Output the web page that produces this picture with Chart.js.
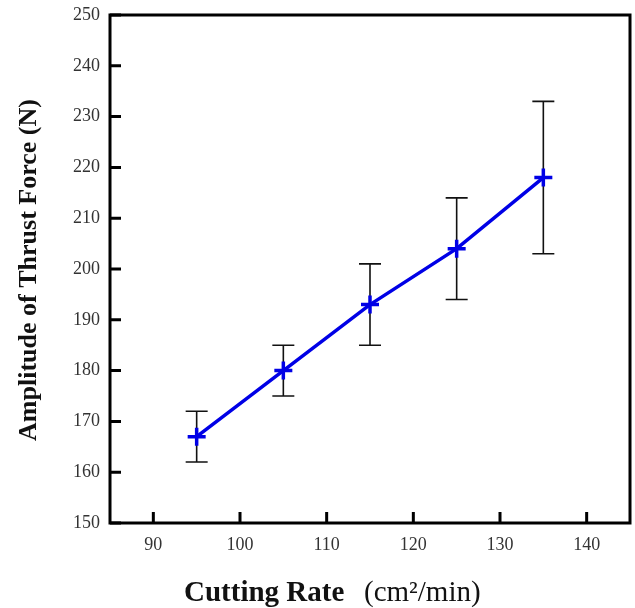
<!DOCTYPE html>
<html>
<head>
    <title>Amplitude of Thrust Force vs Cutting Rate</title>
    <script src="https://cdn.jsdelivr.net/npm/chart.js"></script>
    <style>
        body { margin: 0; background: #fff; }
    </style>
</head>
<body>
    <canvas id="thrustChart" width="635" height="608"></canvas>
    <script>
        // values
        const cuttingRate = [95, 105, 115, 125, 135];
        const thrustForce = [167, 180, 193, 204, 218];
        const errLow = [162, 175, 185, 194, 203];
        const errHigh = [172, 185, 201, 214, 233];
        const xTickVals = [90, 100, 110, 120, 130, 140];
        const yTickVals = [150, 160, 170, 180, 190, 200, 210, 220, 230, 240, 250];

        const serif = '"Liberation Serif", "Times New Roman", serif';

        // error bars, inward ticks, frame and axis titles
        const decorations = {
            id: 'decorations',
            beforeDatasetsDraw(chart) {
                const ctx = chart.ctx;
                const x = chart.scales.x, y = chart.scales.y;
                ctx.save();
                ctx.strokeStyle = '#111';
                ctx.lineWidth = 1.6;
                cuttingRate.forEach((v, i) => {
                    const px = x.getPixelForValue(v);
                    const top = y.getPixelForValue(errHigh[i]);
                    const bot = y.getPixelForValue(errLow[i]);
                    ctx.beginPath();
                    ctx.moveTo(px, top); ctx.lineTo(px, bot);
                    ctx.moveTo(px - 11, top); ctx.lineTo(px + 11, top);
                    ctx.moveTo(px - 11, bot); ctx.lineTo(px + 11, bot);
                    ctx.stroke();
                });
                ctx.restore();
            },
            afterDraw(chart) {
                const ctx = chart.ctx;
                const a = chart.chartArea;
                const x = chart.scales.x, y = chart.scales.y;
                ctx.save();
                ctx.strokeStyle = '#000';
                ctx.lineWidth = 3;
                ctx.strokeRect(a.left, a.top, a.right - a.left, a.bottom - a.top);
                ctx.beginPath();
                xTickVals.forEach(v => {
                    const px = x.getPixelForValue(v);
                    ctx.moveTo(px, a.bottom); ctx.lineTo(px, a.bottom - 11);
                });
                yTickVals.forEach(v => {
                    const py = y.getPixelForValue(v);
                    ctx.moveTo(a.left, py); ctx.lineTo(a.left + 11, py);
                });
                ctx.stroke();

                // x title: bold part + normal part
                ctx.fillStyle = '#111';
                ctx.textBaseline = 'alphabetic';
                ctx.textAlign = 'left';
                ctx.font = 'bold 29px ' + serif;
                ctx.fillText('Cutting Rate', 184, 601);
                ctx.font = '29px ' + serif;
                ctx.fillText('(cm\u00B2/min)', 364, 601);

                // y title
                ctx.translate(36, 270);
                ctx.rotate(-Math.PI / 2);
                ctx.textAlign = 'center';
                ctx.font = 'bold 26px ' + serif;
                ctx.fillText('Amplitude of Thrust Force (N)', 0, 0);
                ctx.restore();
            }
        };

        const ctx = document.getElementById('thrustChart').getContext('2d');
        new Chart(ctx, {
            type: 'line',
            data: {
                datasets: [{
                    label: 'Thrust force',
                    data: cuttingRate.map((v, i) => ({ x: v, y: thrustForce[i] })),
                    borderColor: 'rgb(0, 0, 230)',
                    backgroundColor: 'rgb(0, 0, 230)',
                    borderWidth: 3.5,
                    pointStyle: 'cross',
                    pointRadius: 9,
                    pointBorderWidth: 3.5,
                    pointHoverRadius: 9,
                    fill: false,
                    tension: 0
                }]
            },
            options: {
                responsive: false,
                animation: false,
                events: [],
                layout: { autoPadding: false, padding: { top: 15, right: 5, left: 0, bottom: 0 } },
                plugins: { legend: { display: false }, tooltip: { enabled: false } },
                scales: {
                    x: {
                        type: 'linear',
                        min: 85,
                        max: 145,
                        afterBuildTicks: s => { s.ticks = xTickVals.map(v => ({ value: v })); },
                        afterFit: s => { s.height = 85; s.paddingLeft = 0; s.paddingRight = 0; },
                        grid: { display: false, drawTicks: false },
                        border: { display: false },
                        ticks: {
                            padding: 11,
                            color: '#333',
                            font: { family: serif, size: 18 },
                            maxRotation: 0
                        }
                    },
                    y: {
                        min: 150,
                        max: 250,
                        afterBuildTicks: s => { s.ticks = yTickVals.map(v => ({ value: v })); },
                        afterFit: s => { s.width = 110; s.paddingTop = 0; s.paddingBottom = 0; },
                        grid: { display: false, drawTicks: false },
                        border: { display: false },
                        ticks: {
                            padding: 10,
                            color: '#333',
                            font: { family: serif, size: 18 }
                        }
                    }
                }
            },
            plugins: [decorations]
        });
    </script>
</body>
</html>
